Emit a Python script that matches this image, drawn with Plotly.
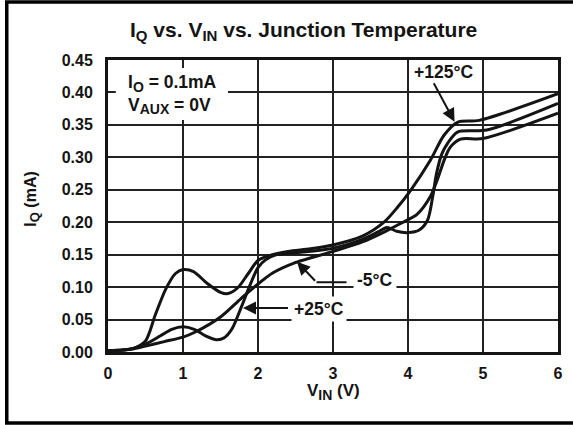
import plotly.graph_objects as go

# ---- data ----
v_125 = [0, 0.2, 0.35, 0.5, 0.63, 0.77, 0.9, 1.0, 1.14, 1.32, 1.5, 1.6, 1.73, 1.87, 2.0, 2.16,
         2.4, 2.7, 3.0, 3.4, 3.68, 3.86, 4.04, 4.3, 4.48, 4.66, 4.95, 6.0]
i_125 = [0.002, 0.003, 0.006, 0.017, 0.057, 0.097, 0.121, 0.127, 0.124, 0.106, 0.092, 0.090, 0.099,
         0.121, 0.141, 0.149, 0.155, 0.159, 0.165, 0.179, 0.200, 0.223, 0.250, 0.296, 0.334, 0.354,
         0.357, 0.398]

v_25 = [0, 0.2, 0.35, 0.5, 0.7, 0.85, 1.0, 1.15, 1.3, 1.45, 1.55, 1.65, 1.78, 1.9, 2.0, 2.1, 2.25,
        2.5, 3.0, 3.4, 3.6, 3.72, 3.85, 4.0, 4.15, 4.26, 4.33, 4.38, 4.45, 4.53, 4.66, 5.05, 6.0]
i_25 = [0.002, 0.003, 0.006, 0.012, 0.025, 0.035, 0.039, 0.035, 0.025, 0.019, 0.022, 0.035, 0.070,
        0.105, 0.130, 0.142, 0.150, 0.153, 0.160, 0.174, 0.185, 0.192, 0.186, 0.184, 0.188, 0.203,
        0.240, 0.275, 0.305, 0.322, 0.339, 0.342, 0.383]

v_m5 = [0, 0.2, 0.35, 0.5, 0.75, 1.0, 1.15, 1.5, 1.77, 1.95, 2.2, 2.48, 3.0, 3.4, 3.7, 3.9, 4.12,
        4.3, 4.39, 4.48, 4.56, 4.7, 5.0, 6.0]
i_m5 = [0.002, 0.003, 0.005, 0.009, 0.016, 0.023, 0.030, 0.054, 0.082, 0.100, 0.122, 0.137, 0.155,
        0.170, 0.186, 0.198, 0.212, 0.240, 0.265, 0.295, 0.315, 0.328, 0.329, 0.368]

x_ticks = [0, 1, 2, 3, 4, 5, 6]
y_ticks = [0.00, 0.05, 0.10, 0.15, 0.20, 0.25, 0.30, 0.35, 0.40, 0.45]
y_tick_labels = ["0.00", "0.05", "0.10", "0.15", "0.20", "0.25", "0.30", "0.35", "0.40", "0.45"]

INK = "#141414"
FONT = "Liberation Sans, Arial, Helvetica, sans-serif"

fig = go.Figure()
for vx, iy, name in [(v_125, i_125, "+125°C"), (v_25, i_25, "+25°C"), (v_m5, i_m5, "-5°C")]:
    fig.add_trace(go.Scatter(x=vx, y=iy, mode="lines", name=name,
                             line=dict(color=INK, width=3, shape="spline", smoothing=0.8),
                             showlegend=False, hoverinfo="skip"))

def sub(t, size=13):
    return f"<sub><span style='font-size:{size}px'>{t}</span></sub>"

anns = []
# title
anns.append(dict(text="I" + sub("Q", 15) + " vs. V" + sub("IN", 15) + " vs. Junction Temperature",
                 xref="paper", yref="paper", x=0.435, y=1.10, xanchor="center", yanchor="middle",
                 showarrow=False, font=dict(size=21)))
# axis titles
anns.append(dict(text="V" + sub("IN", 14) + " (V)", xref="paper", yref="paper", x=0.5, y=-0.138,
                 xanchor="center", yanchor="middle", showarrow=False, font=dict(size=17)))
anns.append(dict(text="I" + sub("Q", 13) + " (mA)", xref="paper", yref="paper", x=-0.168, y=0.523,
                 xanchor="center", yanchor="middle", showarrow=False, textangle=-90,
                 font=dict(size=16)))
# condition box text
anns.append(dict(text="I" + sub("O", 14) + " = 0.1mA<br>V" + sub("AUX", 14) + " = 0V",
                 xref="x", yref="y", x=0.237, y=0.3975, xanchor="left", yanchor="middle",
                 align="left", showarrow=False, font=dict(size=17.5)))
# curve labels
anns.append(dict(text="+125°C", xref="x", yref="y", x=4.476, y=0.432, showarrow=False,
                 bgcolor="white", font=dict(size=17.5)))
anns.append(dict(text="", xref="x", yref="y", axref="x", ayref="y", x=4.62, y=0.355,
                 ax=4.333, ay=0.4166, showarrow=True, arrowhead=2, arrowsize=1.3,
                 arrowwidth=2, arrowcolor=INK, standoff=0, startstandoff=0))
anns.append(dict(text="+25°C", xref="x", yref="y", x=2.81, y=0.0667, showarrow=False,
                 bgcolor="white", borderpad=2, font=dict(size=17.5)))
anns.append(dict(text="", xref="x", yref="y", axref="x", ayref="y", x=1.80, y=0.068,
                 ax=2.42, ay=0.068, showarrow=True, arrowhead=2, arrowsize=1.3,
                 arrowwidth=2, arrowcolor=INK, standoff=0, startstandoff=0))
anns.append(dict(text="-5°C", xref="x", yref="y", x=3.556, y=0.1106, showarrow=False,
                 bgcolor="white", borderpad=3, font=dict(size=17.5)))
anns.append(dict(text="", xref="x", yref="y", axref="x", ayref="y", x=2.52, y=0.139,
                 ax=2.78, ay=0.1075, showarrow=True, arrowhead=2, arrowsize=1.3,
                 arrowwidth=2, arrowcolor=INK, standoff=0, startstandoff=0))

shapes = [
    # white box behind the condition text
    dict(type="rect", xref="x", yref="y", x0=0.104, x1=1.6, y0=0.3575, y1=0.4376,
         fillcolor="white", line=dict(width=0), layer="above"),
    # elbow of the -5°C leader
    dict(type="line", xref="x", yref="y", x0=2.78, x1=3.18, y0=0.1075, y1=0.1075,
         line=dict(color=INK, width=2), layer="above"),
    # outer frame
    dict(type="rect", xref="paper", yref="paper", x0=-0.225, x1=1.05, y0=-0.243, y1=1.199,
         line=dict(color="black", width=3.5), fillcolor="rgba(0,0,0,0)", layer="above"),
]

fig.update_layout(
    width=573, height=425,
    margin=dict(l=108, r=15, t=60, b=73, autoexpand=False),
    paper_bgcolor="white", plot_bgcolor="white",
    font=dict(family=FONT, color=INK, size=16, weight="bold"),
    annotations=anns, shapes=shapes,
)
fig.update_xaxes(range=[0, 6], tickvals=x_ticks, showgrid=True, gridcolor="#222", gridwidth=1.5,
                 showline=True, linecolor=INK, linewidth=3, mirror=True, zeroline=False,
                 ticks="", ticklabelstandoff=5, tickfont=dict(size=16), fixedrange=True)
fig.update_yaxes(range=[0, 0.45], tickvals=y_ticks, ticktext=y_tick_labels, showgrid=True,
                 gridcolor="#222", gridwidth=1.5, showline=True, linecolor=INK, linewidth=3,
                 mirror=True, zeroline=False, ticks="", ticklabelstandoff=9,
                 tickfont=dict(size=16), fixedrange=True)

fig.write_html("out.html", config={"displayModeBar": False},
               post_script="document.body.style.margin='0';document.body.style.overflow='hidden';")
